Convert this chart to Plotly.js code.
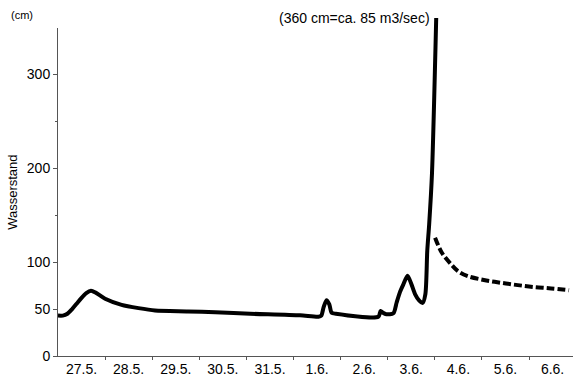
<!DOCTYPE html>
<html>
<head>
<meta charset="utf-8">
<script src="https://cdn.plot.ly/plotly-3.0.1.min.js"></script>
<style>
  html, body { margin: 0; padding: 0; background: #fff; }
  #chart { width: 573px; height: 376px; }
</style>
</head>
<body>
<div id="chart"></div>
<script>
// Day labels (each label sits in the middle of its day)
const dayLabels = ["27.5.", "28.5.", "29.5.", "30.5.", "31.5.", "1.6.", "2.6.", "3.6.", "4.6.", "5.6.", "6.6."];
const labelPositions = [0.5, 1.5, 2.5, 3.5, 4.5, 5.5, 6.5, 7.5, 8.5, 9.5, 10.5];
const dayBoundaries = [1, 2, 3, 4, 5, 6, 7, 8, 9, 10];

// Y axis ticks
const yTickVals = [0, 50, 100, 200, 300];
const yMinorTicks = [150, 250];

// Measured water level (solid line), time in days since start of 27.5.
const measuredDays = [0.00, 0.10, 0.20, 0.30, 0.40, 0.50, 0.60, 0.70, 0.80, 1.00, 1.35, 1.71, 2.06, 2.76, 3.34, 4.08, 5.14, 5.53,
  5.59, 5.64, 5.70, 5.76, 5.81, 5.90, 6.80, 6.85, 6.90, 6.97, 7.12, 7.19, 7.26, 7.33, 7.42, 7.50, 7.58, 7.67, 7.74,
  7.80, 7.84, 7.88, 7.94, 8.03];
const measuredLevel = [43, 43, 45, 50, 56, 62, 67, 69.5, 67.5, 61, 54.5, 51, 48.5, 47.5, 46.5, 45, 43.3, 41.8,
  43, 52, 59.5, 55, 46, 45, 41.8, 48, 46, 44.5, 45.5, 57, 68, 76, 85.5, 77, 66, 59, 56.5,
  66, 112, 140, 194, 360];

// Estimated falling limb (dashed line)
const estimatedDays = [8.006, 8.15, 8.34, 8.50, 8.70, 9.04, 9.40, 9.76, 10.10, 10.47, 10.85];
const estimatedLevel = [126, 110, 98, 90, 85, 81, 78, 75.5, 73.5, 72, 70];

const peakNote = "(360 cm=ca. 85 m3/sec)";
const unitNote = "(cm)";
const yTitle = "Wasserstand";

const FONT = "Liberation Sans, Arial, sans-serif";
const AXC = "#555";

const pxPerDay = 47.1;
const plotW = 573 - 58;
const yMaxAxis = 349;
const yMaxFull = 362.1;

const traces = [
  {
    // empty trace so the visible value axis gets its own subplot
    x: [], y: [], xaxis: "x", yaxis: "y",
    type: "scatter", mode: "lines", hoverinfo: "skip", showlegend: false
  },
  {
    x: measuredDays, y: measuredLevel, xaxis: "x", yaxis: "y2",
    type: "scatter", mode: "lines",
    line: { color: "#000", width: 4, shape: "spline", smoothing: 0.7 },
    hoverinfo: "skip", showlegend: false
  },
  {
    x: estimatedDays, y: estimatedLevel, xaxis: "x", yaxis: "y2",
    type: "scatter", mode: "lines",
    line: { color: "#000", width: 4, dash: "8px,3px", shape: "spline" },
    hoverinfo: "skip", showlegend: false
  }
];

const layout = {
  width: 573, height: 376,
  margin: { l: 58, r: 0, t: 16, b: 20 },
  paper_bgcolor: "#fff", plot_bgcolor: "rgba(0,0,0,0)",
  font: { family: FONT, size: 13, color: "#000" },
  showlegend: false,
  xaxis: {
    range: [0, plotW / pxPerDay],
    anchor: "y",
    showline: true, linecolor: AXC, linewidth: 1,
    showgrid: false, zeroline: false,
    tickmode: "array", tickvals: labelPositions, ticktext: dayLabels,
    ticks: "",
    tickfont: { family: FONT, size: 14, color: "#000" },
    minor: { tickmode: "array", tickvals: dayBoundaries, ticks: "outside", ticklen: 3, tickwidth: 1, tickcolor: AXC, showgrid: false }
  },
  yaxis: {
    domain: [0, yMaxAxis / yMaxFull],
    range: [0, yMaxAxis],
    anchor: "x",
    showline: true, linecolor: AXC, linewidth: 1,
    showgrid: false, zeroline: false,
    tickmode: "array", tickvals: yTickVals,
    ticks: "outside", ticklen: 4, tickwidth: 1, tickcolor: AXC,
    tickfont: { family: FONT, size: 14, color: "#000" },
    minor: { tickmode: "array", tickvals: yMinorTicks, ticks: "outside", ticklen: 2, tickwidth: 1, tickcolor: AXC, showgrid: false },
    title: { text: yTitle, font: { family: FONT, size: 13, color: "#000" }, standoff: 6 }
  },
  yaxis2: {
    domain: [0, 1],
    range: [0, yMaxFull],
    anchor: "x",
    visible: false, showgrid: false, zeroline: false
  },
  annotations: [
    {
      text: peakNote, x: measuredDays[measuredDays.length - 1], y: measuredLevel[measuredLevel.length - 1],
      xref: "x", yref: "y2", xanchor: "right", yanchor: "middle", xshift: -4, showarrow: false,
      font: { family: FONT, size: 14, color: "#000" }
    },
    {
      text: unitNote, x: -0.069, y: 1.003, xref: "paper", yref: "paper",
      xanchor: "center", yanchor: "middle", showarrow: false,
      font: { family: FONT, size: 11, color: "#000" }
    }
  ]
};

Plotly.newPlot("chart", traces, layout, { displayModeBar: false, staticPlot: true });
</script>
</body>
</html>
